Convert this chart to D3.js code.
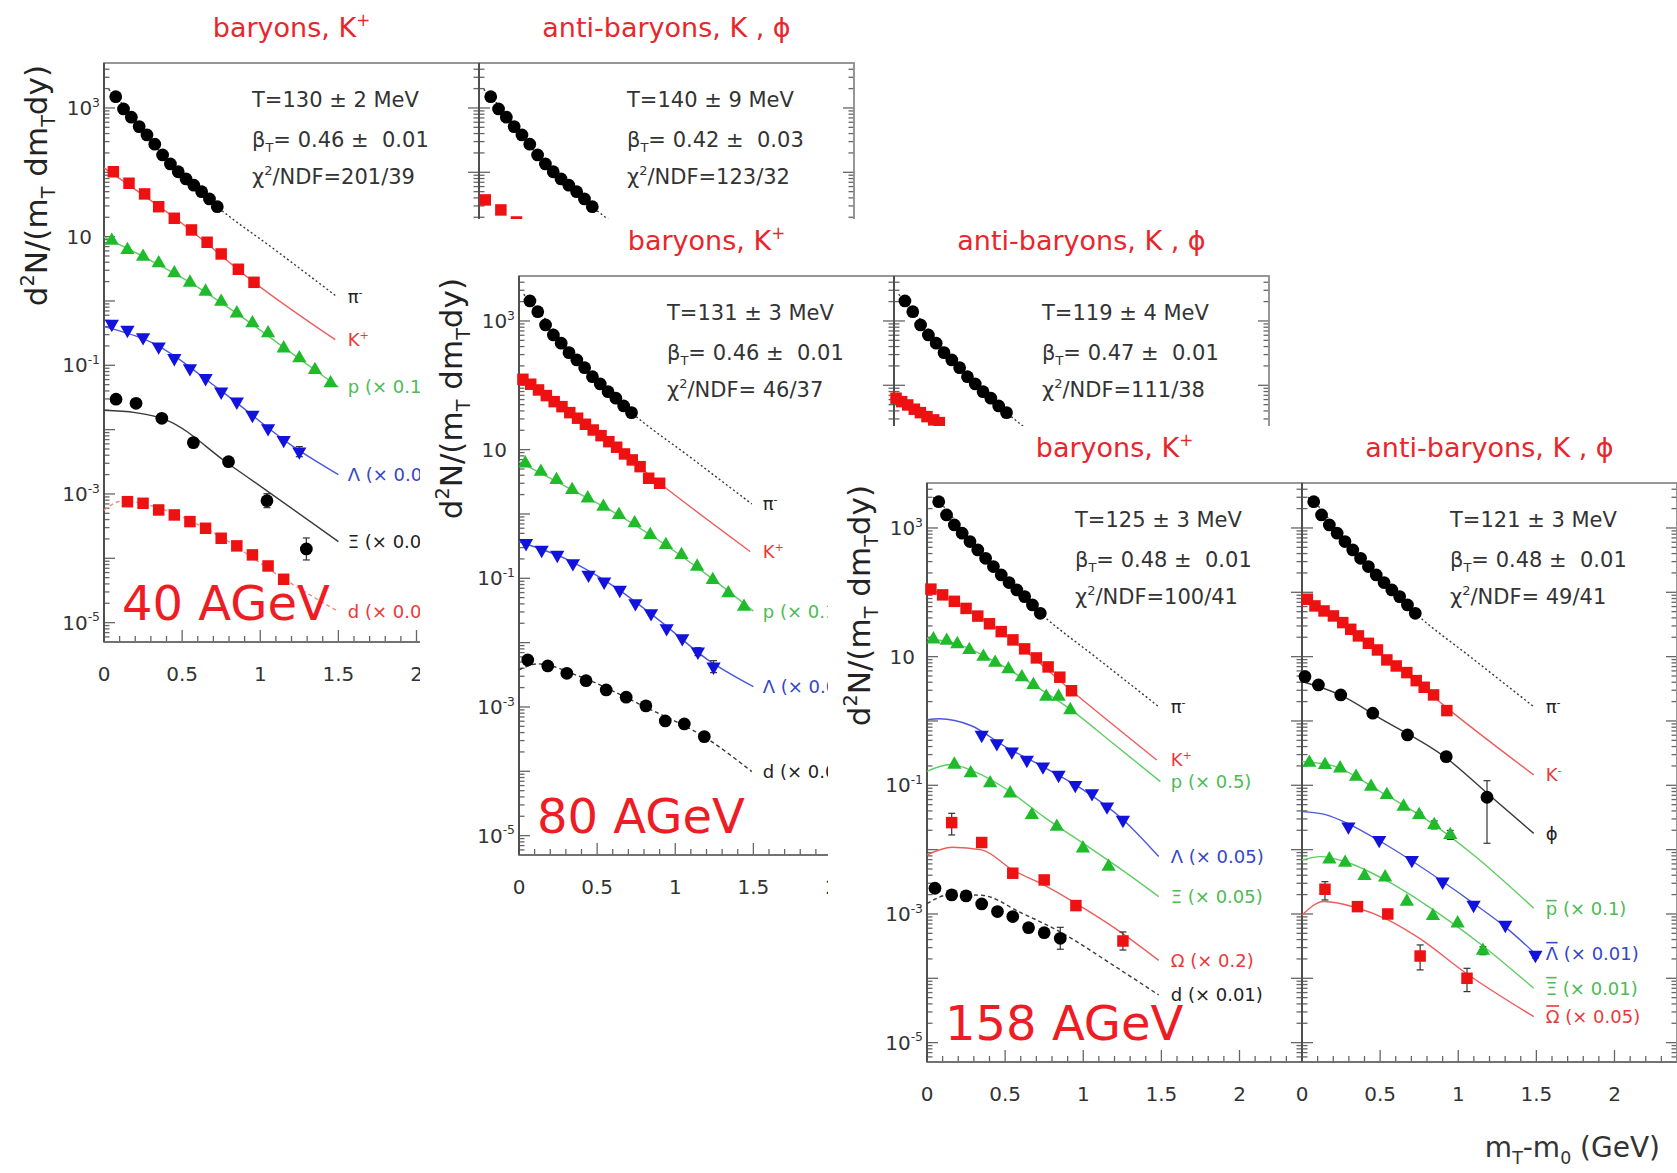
<!DOCTYPE html>
<html>
<head>
<meta charset="utf-8">
<title>Blast-wave fits to mT spectra at 40, 80 and 158 AGeV</title>
<script src="https://cdn.jsdelivr.net/npm/d3@7/dist/d3.min.js"></script>
<style>
  html, body { margin: 0; padding: 0; background: #fff; }
  svg { display: block; }
  text { font-family: "DejaVu Sans", Verdana, sans-serif; white-space: pre; }
</style>
</head>
<body>
<svg id="chart" width="1677" height="1173"></svg>
<script>
// ---------------- tick labels & texts ----------------
const yTickExp = [3, 1, -1, -3, -5];
const xTickVals = [0, 0.5, 1, 1.5, 2];
const xTickText = ["0", "0.5", "1", "1.5", "2"];
const energies = ["40 AGeV", "80 AGeV", "158 AGeV"];

// fit results: [T line, beta_T value, chi2/NDF value] for [left, right] panels
const fit40  = [["T=130 ± 2 MeV", "= 0.46 ±  0.01", "/NDF=201/39"], ["T=140 ± 9 MeV", "= 0.42 ±  0.03", "/NDF=123/32"]];
const fit80  = [["T=131 ± 3 MeV", "= 0.46 ±  0.01", "/NDF= 46/37"], ["T=119 ± 4 MeV", "= 0.47 ±  0.01", "/NDF=111/38"]];
const fit158 = [["T=125 ± 3 MeV", "= 0.48 ±  0.01", "/NDF=100/41"], ["T=121 ± 3 MeV", "= 0.48 ±  0.01", "/NDF= 49/41"]];

// ---------------- 40 AGeV ----------------
const pim40 = [[0.075,1500],[0.125,966],[0.175,718],[0.225,513],[0.275,381],[0.325,273],[0.375,186],[0.425,135],[0.475,102],[0.525,78.9],[0.575,63],[0.625,50],[0.675,38.5],[0.725,29.2]];
const pim40Fit = [[0.03,1950],[0.075,1500],[0.4,160],[0.725,29.2],[1.1,6.1],[1.49,1.17]];
const kp40 = [[0.06,102],[0.16,67.6],[0.26,46.1],[0.35,29.2],[0.45,19.3],[0.56,12.7],[0.66,8.18],[0.75,5.38],[0.86,3.11],[0.96,1.95]];
const kp40Fit = [[0,117],[0.5,16],[0.96,1.95],[1.48,0.25]];
const p40 = [[0.05,8.67],[0.15,6.21],[0.25,4.89],[0.35,3.86],[0.45,2.70],[0.55,1.93],[0.65,1.40],[0.75,0.975],[0.85,0.644],[0.95,0.451],[1.05,0.315],[1.15,0.184],[1.25,0.129],[1.35,0.0847],[1.45,0.0526]];
const p40Fit = [[0,9.8],[0.25,4.9],[0.55,1.95],[0.85,0.64],[1.15,0.19],[1.5,0.046]];
const lam40 = [[0.05,0.440],[0.15,0.355],[0.25,0.273],[0.35,0.195],[0.45,0.129],[0.55,0.090],[0.65,0.063],[0.75,0.0389],[0.85,0.0272],[0.95,0.0169],[1.05,0.0105],[1.15,0.0069],[1.25,0.00455]];
const lam40Fit = [[0,0.40],[0.3,0.23],[0.75,0.040],[1.2,0.0057],[1.5,0.0020]];
const lam40Err = [[1.25,0.0038,0.00545]];
const xi40 = [[0.077,0.0297],[0.205,0.0257],[0.37,0.0150],[0.572,0.00628],[0.797,0.00318],[1.043,0.000787],[1.295,0.000140]];
const xi40Fit = [[0,0.020],[0.2,0.0184],[0.4,0.0141],[0.8,0.0029],[1.05,0.00109],[1.5,0.000182]];
const xi40Err = [[1.043,0.000612,0.00101],[1.295,0.0000942,0.000207]];
const d40 = [[0.15,0.000759],[0.25,0.000716],[0.35,0.000564],[0.45,0.000472],[0.55,0.000372],[0.65,0.000293],[0.75,0.000205],[0.85,0.000156],[0.95,0.000113],[1.05,0.0000760],[1.15,0.0000472]];
const d40Fit = [[0,0.00056],[0.12,0.00078],[0.3,0.00066],[0.7,0.00025],[1.15,0.000048],[1.5,0.0000148]];
const km40 = [[0.04,37.2],[0.14,26.0],[0.24,16.9]];

// ---------------- 80 AGeV ----------------
const pim80 = [[0.07,2047],[0.12,1396],[0.17,867],[0.22,607],[0.27,451],[0.32,322],[0.37,248],[0.42,188],[0.47,136],[0.52,105],[0.57,79.6],[0.62,63],[0.67,47.8],[0.72,37.6]];
const pim80Fit = [[0.03,2600],[0.07,2047],[0.4,210],[0.72,37.6],[1.1,7.5],[1.49,1.43]];
const kp80 = [[0.025,124],[0.075,104],[0.125,84.7],[0.175,69.2],[0.225,55.7],[0.275,46.6],[0.325,37.6],[0.375,30.8],[0.425,24.8],[0.475,20.2],[0.525,16.5],[0.575,13.3],[0.625,10.9],[0.675,8.57],[0.725,6.92],[0.775,5.44],[0.83,3.59],[0.9,3.0]];
const kp80Fit = [[0,136],[0.45,22.5],[0.9,3.0],[1.48,0.26]];
const p80 = [[0.04,6.14],[0.14,4.55],[0.24,3.38],[0.34,2.36],[0.44,1.75],[0.54,1.30],[0.64,0.966],[0.74,0.718],[0.84,0.472],[0.94,0.330],[1.04,0.231],[1.14,0.152],[1.24,0.0942],[1.34,0.0586],[1.44,0.0362]];
const p80Fit = [[0,6.5],[0.3,2.65],[0.6,1.09],[0.9,0.38],[1.2,0.115],[1.5,0.031]];
const lam80 = [[0.045,0.351],[0.145,0.276],[0.245,0.231],[0.345,0.171],[0.445,0.113],[0.545,0.0887],[0.645,0.0659],[0.745,0.0409],[0.845,0.0286],[0.945,0.0167],[1.045,0.0117],[1.145,0.00724],[1.245,0.00423]];
const lam80Fit = [[0,0.37],[0.3,0.2],[0.6,0.077],[0.9,0.022],[1.2,0.0056],[1.5,0.00207]];
const lam80Err = [[1.145,0.00628,0.00834],[1.245,0.00342,0.00524]];
const d80 = [[0.056,0.00538],[0.184,0.00435],[0.306,0.00334],[0.429,0.00256],[0.558,0.00184],[0.686,0.00142],[0.812,0.00104],[0.936,0.000607],[1.058,0.000545],[1.186,0.000346]];
const d80Fit = [[0,0.00376],[0.12,0.00467],[0.4,0.0029],[0.8,0.00102],[1.2,0.000326],[1.49,0.0000989]];
const km80 = [[0.013,63.0],[0.049,55.7],[0.088,49.5],[0.13,42.5],[0.169,37.6],[0.211,32.6],[0.254,29.0],[0.29,26.3]];

// ---------------- 158 AGeV ----------------
const pim158 = [[0.075,2564],[0.125,1595],[0.175,1114],[0.225,828],[0.275,614],[0.325,456],[0.375,338],[0.425,251],[0.475,186],[0.525,141.5],[0.575,109],[0.625,85.7],[0.675,63.7],[0.725,47.2]];
const pim158Fit = [[0.04,3000],[0.075,2564],[0.3,530],[0.725,47.2],[1.1,9.0],[1.483,1.67]];
const kp158 = [[0.025,112],[0.1,91.2],[0.175,72.4],[0.25,56.2],[0.325,42.7],[0.4,32.4],[0.475,24.5],[0.55,18.2],[0.625,13.2],[0.7,9.55],[0.775,6.92],[0.85,4.79],[0.925,2.95]];
const kp158Fit = [[0,122],[0.5,22],[0.925,2.95],[1.47,0.248]];
const p158 = [[0.041,18.6],[0.126,17.7],[0.194,15.7],[0.271,12.7],[0.361,10.0],[0.436,8.07],[0.521,6.37],[0.607,4.79],[0.681,3.63],[0.763,2.39],[0.842,2.39],[0.917,1.48]];
const p158Fit = [[0,19.3],[0.2,15.5],[0.45,8.0],[0.7,3.4],[0.92,1.5],[1.2,0.43],[1.494,0.114]];
const lam158 = [[0.35,0.607],[0.447,0.450],[0.543,0.334],[0.639,0.248],[0.742,0.195],[0.842,0.145],[0.949,0.101],[1.056,0.0752],[1.152,0.0467],[1.254,0.0289]];
const lam158Fit = [[0,1.04],[0.08,1.08],[0.28,0.85],[0.5,0.40],[0.75,0.19],[1.0,0.085],[1.25,0.030],[1.483,0.0078]];
const xi158 = [[0.175,0.21],[0.280,0.154],[0.404,0.108],[0.532,0.0752],[0.671,0.0346],[0.831,0.0228],[0.998,0.0105],[1.162,0.00543]];
const xi158Fit = [[0,0.165],[0.15,0.21],[0.3,0.165],[0.5,0.09],[0.75,0.032],[1.0,0.0125],[1.25,0.0048],[1.483,0.00186]];
const om158 = [[0.158,0.0263],[0.35,0.0129],[0.549,0.0043],[0.75,0.00338],[0.953,0.00135],[1.254,0.00038]];
const om158Fit = [[0,0.0083],[0.16,0.0109],[0.35,0.0099],[0.55,0.0048],[0.75,0.0028],[0.95,0.00147],[1.25,0.0005],[1.483,0.00019]];
const om158Err = [[0.158,0.0169,0.0367],[0.549,0.00386,0.00479],[0.953,0.00121,0.0015],[1.254,0.000275,0.000525]];
const d158 = [[0.051,0.00251],[0.158,0.00198],[0.25,0.00191],[0.35,0.00143],[0.451,0.00109],[0.549,0.00091],[0.65,0.000613],[0.75,0.000512],[0.853,0.000419]];
const d158Fit = [[0,0.00145],[0.15,0.0020],[0.35,0.00195],[0.6,0.00105],[0.85,0.00053],[1.2,0.000155],[1.483,0.000055]];
const d158Err = [[0.65,0.000532,0.000707],[0.75,0.000444,0.00059],[0.853,0.000283,0.00062]];
const km158 = [[0.034,78.0],[0.083,61.4],[0.141,51.3],[0.201,42.9],[0.261,33.8],[0.312,26.6],[0.361,21.0],[0.425,16.1],[0.483,12.7],[0.543,8.89],[0.603,7.16],[0.671,5.65],[0.731,4.24],[0.782,3.34],[0.842,2.54],[0.927,1.45]];
const km158Fit = [[0,86],[0.3,27],[0.6,7.3],[0.927,1.6],[1.483,0.145]];
const phi158 = [[0.019,4.89],[0.105,3.63],[0.248,2.54],[0.453,1.32],[0.675,0.607],[0.923,0.279],[1.184,0.0652]];
const phi158Fit = [[0,4.1],[0.25,2.5],[0.5,1.1],[0.92,0.27],[1.2,0.07],[1.483,0.0179]];
const phi158Err = [[1.184,0.01256,0.118]];
const pbar158 = [[0.047,0.225],[0.147,0.207],[0.244,0.184],[0.346,0.136],[0.442,0.0953],[0.543,0.0708],[0.65,0.0467],[0.75,0.0346],[0.846,0.0242],[0.949,0.0169]];
const pbar158Fit = [[0,0.235],[0.2,0.2],[0.5,0.08],[0.8,0.029],[1.1,0.0082],[1.483,0.00123]];
const pbar158Err = [[0.65,0.0435,0.0502],[0.75,0.0316,0.0378],[0.846,0.021,0.0279],[0.949,0.0144,0.0199]];
const lbar158 = [[0.297,0.0228],[0.494,0.0141],[0.703,0.0069],[0.900,0.00318],[1.098,0.00138],[1.301,0.000675],[1.494,0.000231]];
const lbar158Fit = [[0,0.039],[0.15,0.035],[0.3,0.025],[0.5,0.0135],[0.9,0.0032],[1.1,0.00145],[1.3,0.00063],[1.49,0.000245]];
const lbar158Err = [[1.494,0.000207,0.000257]];
const xibar158 = [[0.175,0.00708],[0.276,0.00628],[0.400,0.0039],[0.532,0.00372],[0.671,0.00156],[0.838,0.00093],[0.996,0.000716],[1.158,0.000269]];
const xibar158Fit = [[0,0.0069],[0.12,0.0078],[0.3,0.0062],[0.55,0.0032],[0.8,0.00135],[1.15,0.00033],[1.483,0.00007]];
const xibar158Err = [[1.158,0.000233,0.00031]];
const ombar158 = [[0.147,0.00242],[0.355,0.0013],[0.549,0.001],[0.756,0.000222],[1.056,0.0001]];
const ombar158Fit = [[0,0.00096],[0.14,0.00156],[0.35,0.00125],[0.55,0.00081],[0.75,0.00042],[1.05,0.00012],[1.483,0.0000254]];
const ombar158Err = [[0.147,0.00165,0.00318],[0.756,0.000135,0.00033],[1.056,0.0000621,0.000143]];

// ---------------- styling ----------------
const C = {
  black: "#000", red: "#ee1111", green: "#1fbb2a", blue: "#1212dd",
  lDark: "#3a3a3a", lRed: "#ee5c5c", lRedSoft: "#f08a8a", lGreen: "#5fcd62", lBlue: "#4b58dd",
  tRed: "#e83a3a", tGreen: "#4cbb55", tBlue: "#3546c8", tBlack: "#222", title: "#e8262b"
};
const PW = 375, PH = 579;
const COVER = { x: -99, y: -57 };   // white backing of each later figure, relative to its plot origin
const x = d3.scaleLinear().domain([0, 2.4]).range([0, PW]);
const y = d3.scaleLog().domain([5e-6, 5e3]).range([PH, 0]);
const line = d3.line().x(d => x(d[0])).y(d => y(d[1])).curve(d3.curveMonotoneX);
const svg = d3.select("#chart");

const sym = {
  circle: d3.symbol(d3.symbolCircle, 128)(),
  square: d3.symbol(d3.symbolSquare, 132)(),
  triUp: d3.symbol(d3.symbolTriangle, 88)(),
  triDown: d3.symbol(d3.symbolTriangle, 88)()
};

// text made of parts with optional super/subscripts
function rich(sel, parts, fs) {
  let shift = 0;
  parts.forEach(p => {
    const target = p.sup ? -0.42 * fs : p.sub ? 0.26 * fs : 0;
    const ts = sel.append("tspan").text(p.t).attr("dy", target - shift);
    if (p.sup || p.sub) ts.attr("font-size", 0.62 * fs);
    shift = target;
  });
  return sel;
}

const S = (pts, fit, m, c, lc, lab, labc, extra) => Object.assign({ pts, fit, m, c, lc, lab, labc }, extra || {});
const piLab = [{ t: "π" }, { t: "-", sup: true }];
const piDash = "2,2.5";

const sets = [
  {
    ox: 104, oy: 63, fits: fit40,
    left: [
      S(pim40, pim40Fit, "circle", C.black, C.lDark, piLab, C.tBlack, { dash: piDash }),
      S(kp40, kp40Fit, "square", C.red, C.lRed, [{ t: "K" }, { t: "+", sup: true }], C.tRed),
      S(p40, p40Fit, "triUp", C.green, C.lGreen, [{ t: "p (× 0.1)" }], C.tGreen),
      S(lam40, lam40Fit, "triDown", C.blue, C.lBlue, [{ t: "Λ (× 0.05)" }], C.tBlue, { err: lam40Err }),
      S(xi40, xi40Fit, "circle", C.black, C.lDark, [{ t: "Ξ (× 0.05)" }], C.tBlack, { err: xi40Err }),
      S(d40, d40Fit, "square", C.red, C.lRedSoft, [{ t: "d (× 0.01)" }], C.tRed, { dash: "4,3" })
    ],
    right: [
      S(pim40, pim40Fit, "circle", C.black, C.lDark, piLab, C.tBlack, { dash: piDash }),
      S(km40, null, "square", C.red, C.lRed, null, C.tRed)
    ]
  },
  {
    ox: 519, oy: 276, fits: fit80,
    left: [
      S(pim80, pim80Fit, "circle", C.black, C.lDark, piLab, C.tBlack, { dash: piDash }),
      S(kp80, kp80Fit, "square", C.red, C.lRed, [{ t: "K" }, { t: "+", sup: true }], C.tRed),
      S(p80, p80Fit, "triUp", C.green, C.lGreen, [{ t: "p (× 0.1)" }], C.tGreen),
      S(lam80, lam80Fit, "triDown", C.blue, C.lBlue, [{ t: "Λ (× 0.05)" }], C.tBlue, { err: lam80Err }),
      S(d80, d80Fit, "circle", C.black, C.lDark, [{ t: "d (× 0.01)" }], C.tBlack, { dash: "4,3" })
    ],
    right: [
      S(pim80, pim80Fit, "circle", C.black, C.lDark, piLab, C.tBlack, { dash: piDash }),
      S(km80, null, "square", C.red, C.lRed, null, C.tRed)
    ]
  },
  {
    ox: 927, oy: 483, fits: fit158,
    left: [
      S(pim158, pim158Fit, "circle", C.black, C.lDark, piLab, C.tBlack, { dash: piDash }),
      S(kp158, kp158Fit, "square", C.red, C.lRed, [{ t: "K" }, { t: "+", sup: true }], C.tRed),
      S(p158, p158Fit, "triUp", C.green, C.lGreen, [{ t: "p (× 0.5)" }], C.tGreen),
      S(lam158, lam158Fit, "triDown", C.blue, C.lBlue, [{ t: "Λ (× 0.05)" }], C.tBlue),
      S(xi158, xi158Fit, "triUp", C.green, C.lGreen, [{ t: "Ξ (× 0.05)" }], C.tGreen),
      S(om158, om158Fit, "square", C.red, C.lRed, [{ t: "Ω (× 0.2)" }], C.tRed, { err: om158Err }),
      S(d158, d158Fit, "circle", C.black, C.lDark, [{ t: "d (× 0.01)" }], C.tBlack, { dash: "4,3", err: d158Err })
    ],
    right: [
      S(pim158, pim158Fit, "circle", C.black, C.lDark, piLab, C.tBlack, { dash: piDash }),
      S(km158, km158Fit, "square", C.red, C.lRed, [{ t: "K" }, { t: "-", sup: true }], C.tRed),
      S(phi158, phi158Fit, "circle", C.black, C.lDark, [{ t: "ϕ" }], C.tBlack, { err: phi158Err }),
      S(pbar158, pbar158Fit, "triUp", C.green, C.lGreen, [{ t: "p", bar: 0.78 }, { t: " (× 0.1)" }], C.tGreen, { err: pbar158Err }),
      S(lbar158, lbar158Fit, "triDown", C.blue, C.lBlue, [{ t: "Λ", bar: 0.95 }, { t: " (× 0.01)" }], C.tBlue, { err: lbar158Err }),
      S(xibar158, xibar158Fit, "triUp", C.green, C.lGreen, [{ t: "Ξ", bar: 0.95 }, { t: " (× 0.01)" }], C.tGreen, { err: xibar158Err }),
      S(ombar158, ombar158Fit, "square", C.red, C.lRed, [{ t: "Ω", bar: 0.95 }, { t: " (× 0.05)" }], C.tRed, { err: ombar158Err })
    ]
  }
];

function drawFrame(g, withYLabels) {
  const ax = g.append("g").attr("stroke", "#666").attr("stroke-width", 1.3);
  for (let e = -6; e <= 3; e++) {
    for (let k = 1; k <= 9; k++) {
      const v = k * Math.pow(10, e);
      if (v < 5e-6 * 1.001 || v > 5e3 * 0.999) continue;
      const len = k === 1 ? 11 : 5.5, yy = y(v);
      ax.append("line").attr("x1", 0).attr("x2", len).attr("y1", yy).attr("y2", yy);
      ax.append("line").attr("x1", PW).attr("x2", PW - len).attr("y1", yy).attr("y2", yy);
    }
  }
  for (let i = 0; i <= 24; i++) {
    const len = i % 5 === 0 ? 12 : 6, xx = x(i / 10);
    ax.append("line").attr("x1", xx).attr("x2", xx).attr("y1", PH).attr("y2", PH - len);
  }
  g.append("rect").attr("width", PW).attr("height", PH)
    .attr("fill", "none").attr("stroke", "#8c8c8c").attr("stroke-width", 1.8);
  g.append("line").attr("x1", 0).attr("x2", 0).attr("y1", 0).attr("y2", PH)
    .attr("stroke", "#444").attr("stroke-width", 1.7);
  g.append("line").attr("x1", 0).attr("x2", PW).attr("y1", PH).attr("y2", PH)
    .attr("stroke", "#666").attr("stroke-width", 1.7);

  xTickVals.forEach((v, i) => {
    g.append("text").attr("x", x(v)).attr("y", PH + 39).attr("text-anchor", "middle")
      .attr("font-size", 20).attr("fill", "#333").text(xTickText[i]);
  });
  if (withYLabels) {
    yTickExp.forEach(e => {
      const t = g.append("text").attr("y", y(Math.pow(10, e)) + 7).attr("text-anchor", "end")
        .attr("font-size", 20).attr("fill", "#333");
      if (e === 1) t.attr("x", -12).text("10");
      else rich(t.attr("x", -4), [{ t: "10" }, { t: String(e), sup: true }], 20);
    });
  }
}

function drawLabel(g, parts, x0, y0, color) {
  const fs = 18;
  let cx = x0;
  let rest = parts;
  if (parts[0].bar) {
    const t = g.append("text").attr("x", cx).attr("y", y0 + 0.36 * fs).attr("font-size", fs)
      .attr("fill", color).text(parts[0].t);
    const w = t.node().getComputedTextLength();
    const by = y0 + 0.36 * fs - parts[0].bar * fs;
    g.append("line").attr("x1", cx + 0.5).attr("x2", cx + w - 0.5).attr("y1", by).attr("y2", by)
      .attr("stroke", color).attr("stroke-width", 1.6);
    cx += w;
    rest = parts.slice(1);
  }
  const t = g.append("text").attr("x", cx).attr("y", y0 + 0.36 * fs).attr("font-size", fs).attr("fill", color);
  rich(t, rest, fs);
}

function drawPanel(g, series, fitText, withYLabels) {
  drawFrame(g, withYLabels);
  const gFit = g.append("g"), gErr = g.append("g"), gMk = g.append("g"), gLab = g.append("g");
  series.forEach(s => {
    if (s.fit) {
      gFit.append("path").attr("d", line(s.fit)).attr("fill", "none")
        .attr("stroke", s.lc).attr("stroke-width", 1.4).attr("stroke-dasharray", s.dash || null);
    }
    (s.err || []).forEach(e => {
      const xx = x(e[0]);
      const eg = gErr.append("g").attr("stroke", "#333").attr("stroke-width", 1.2);
      eg.append("line").attr("x1", xx).attr("x2", xx).attr("y1", y(e[1])).attr("y2", y(e[2]));
      [e[1], e[2]].forEach(v => eg.append("line").attr("x1", xx - 3.5).attr("x2", xx + 3.5).attr("y1", y(v)).attr("y2", y(v)));
    });
    gMk.selectAll(null).data(s.pts).join("path")
      .attr("transform", d => `translate(${x(d[0])},${y(d[1])})` + (s.m === "triDown" ? " rotate(180)" : ""))
      .attr("d", sym[s.m]).attr("fill", s.c);
    if (s.lab && s.fit) drawLabel(gLab, s.lab, x(1.56), y(s.fit[s.fit.length - 1][1]), s.labc);
  });
  // fit results
  const fs = 21, tx = 148;
  g.append("text").attr("x", tx).attr("y", 44).attr("font-size", fs).attr("fill", "#333").text(fitText[0]);
  rich(g.append("text").attr("x", tx).attr("y", 84).attr("font-size", fs).attr("fill", "#333"),
    [{ t: "β" }, { t: "T", sub: true }, { t: fitText[1] }], fs);
  rich(g.append("text").attr("x", tx).attr("y", 121).attr("font-size", fs).attr("fill", "#333"),
    [{ t: "χ" }, { t: "2", sup: true }, { t: fitText[2] }], fs);
}

const groups = sets.map((st, i) => {
  const g = svg.append("g").attr("transform", `translate(${st.ox},${st.oy})`);
  if (i > 0) g.append("rect").attr("x", COVER.x).attr("y", COVER.y).attr("width", 2200).attr("height", 2200).attr("fill", "#fff");

  // panel titles
  rich(g.append("text").attr("x", PW / 2).attr("y", -26).attr("text-anchor", "middle")
    .attr("font-size", 27).attr("fill", C.title), [{ t: "baryons, K" }, { t: "+", sup: true }], 27);
  g.append("text").attr("x", PW * 1.5).attr("y", -26).attr("text-anchor", "middle")
    .attr("font-size", 27).attr("fill", C.title).text("anti-baryons, K , ϕ");

  // y axis title
  rich(g.append("text").attr("transform", "translate(-57,2) rotate(-90)").attr("text-anchor", "end")
    .attr("font-size", 31).attr("fill", "#222"),
    [{ t: "d" }, { t: "2", sup: true }, { t: "N/(m" }, { t: "T", sub: true }, { t: " dm" }, { t: "T", sub: true }, { t: "dy)" }], 31);

  drawPanel(g.append("g"), st.left, st.fits[0], true);
  drawPanel(g.append("g").attr("transform", `translate(${PW},0)`), st.right, st.fits[1], false);

  // x axis title
  rich(g.append("text").attr("x", 2 * PW - 17).attr("y", PH + 95).attr("text-anchor", "end")
    .attr("font-size", 28).attr("fill", "#333"),
    [{ t: "m" }, { t: "T", sub: true }, { t: "-m" }, { t: "0", sub: true }, { t: " (GeV)" }], 28);

  // beam energy
  g.append("text").attr("x", 18).attr("y", 557).attr("font-size", 48).attr("fill", "#ee1c24").text(energies[i]);
  return g;
});

// texts of an earlier figure that sit entirely under a later figure's backing are dropped
groups.forEach((g, i) => {
  const covers = sets.slice(i + 1).map(st => ({ x: st.ox + COVER.x, y: st.oy + COVER.y }));
  if (!covers.length) return;
  g.selectAll("text").each(function () {
    const r = this.getBoundingClientRect();
    if (covers.some(c => r.left >= c.x && r.top >= c.y)) d3.select(this).remove();
  });
});
</script>
</body>
</html>
